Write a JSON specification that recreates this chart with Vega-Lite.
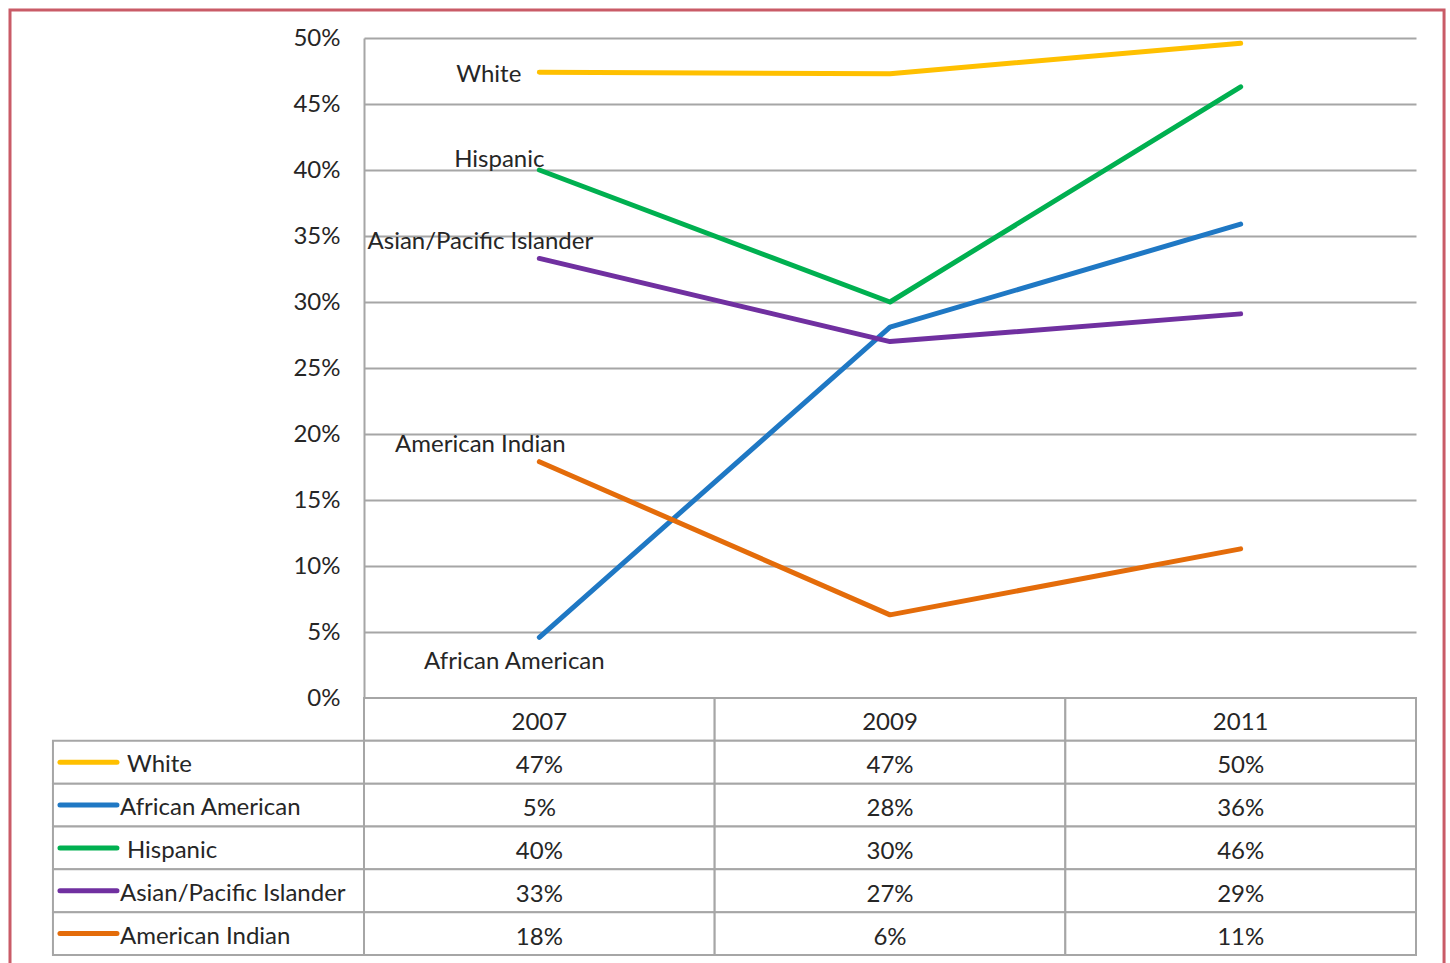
{
  "$schema": "https://vega.github.io/schema/vega-lite/v6.json",
  "width": 1052,
  "height": 660,
  "autosize": "none",
  "padding": {"left": 364, "top": 38, "right": 34, "bottom": 265},
  "background": "white",
  "config": {"view": {"stroke": null}, "font": "Lato", "text": {"font": "Lato", "fontSize": 24, "color": "#262626"}},
  "datasets": {
    "series": [
      {"year": 2007, "group": "White", "value": 0.474},
      {"year": 2009, "group": "White", "value": 0.473},
      {"year": 2011, "group": "White", "value": 0.496},
      {"year": 2007, "group": "African American", "value": 0.046},
      {"year": 2009, "group": "African American", "value": 0.281},
      {"year": 2011, "group": "African American", "value": 0.359},
      {"year": 2007, "group": "Hispanic", "value": 0.400},
      {"year": 2009, "group": "Hispanic", "value": 0.300},
      {"year": 2011, "group": "Hispanic", "value": 0.463},
      {"year": 2007, "group": "Asian/Pacific Islander", "value": 0.333},
      {"year": 2009, "group": "Asian/Pacific Islander", "value": 0.270},
      {"year": 2011, "group": "Asian/Pacific Islander", "value": 0.291},
      {"year": 2007, "group": "American Indian", "value": 0.179},
      {"year": 2009, "group": "American Indian", "value": 0.063},
      {"year": 2011, "group": "American Indian", "value": 0.113}
    ],
    "rows": [
      {"group": "header"},
      {"group": "White"},
      {"group": "African American"},
      {"group": "Hispanic"},
      {"group": "Asian/Pacific Islander"},
      {"group": "American Indian"}
    ]
  },
  "resolve": {"scale": {"y": "independent"}},
  "layer": [
    {
      "data": {"name": "series"},
      "layer": [
        {
          "data": {"values": [{}]},
          "mark": {"type": "rect", "fill": null, "stroke": "#c95b67", "strokeWidth": 3, "clip": false},
          "encoding": {
            "x": {"datum": 2003.981, "type": "quantitative", "scale": {"domain": [2006, 2012]}, "axis": null},
            "x2": {"datum": 2012.16},
            "y": {"datum": 0.5212, "type": "quantitative"},
            "y2": {"datum": -0.215}
          }
        },
        {
          "mark": {"type": "line", "strokeWidth": 5, "strokeCap": "round", "strokeJoin": "round"},
          "encoding": {
            "x": {"field": "year", "type": "quantitative", "scale": {"domain": [2006, 2012]}, "axis": null},
            "y": {
              "field": "value", "type": "quantitative",
              "scale": {"domain": [0, 0.5], "nice": false, "zero": false},
              "axis": {
                "title": null, "format": ".0%",
                "values": [0, 0.05, 0.1, 0.15, 0.2, 0.25, 0.3, 0.35, 0.4, 0.45, 0.5],
                "grid": true, "gridColor": "#a6a6a6", "gridWidth": 2,
                "domain": true, "domainColor": "#a6a6a6", "domainWidth": 2,
                "ticks": false, "labelPadding": 24,
                "labelFont": "Lato", "labelFontSize": 24, "labelColor": "#262626"
              }
            },
            "color": {
              "field": "group", "type": "nominal", "legend": null,
              "scale": {
                "domain": ["White", "African American", "Hispanic", "Asian/Pacific Islander", "American Indian"],
                "range": ["#ffc000", "#1f78c4", "#00b050", "#7030a0", "#e46c0a"]
              }
            },
            "detail": {"field": "group"}
          }
        },
        {
          "transform": [{"filter": "datum.year == 2007 && datum.group == 'White'"}],
          "mark": {"type": "text", "align": "right", "baseline": "middle", "dx": -18, "dy": 3},
          "encoding": {"x": {"field": "year", "type": "quantitative"}, "y": {"field": "value", "type": "quantitative"}, "text": {"field": "group"}}
        },
        {
          "transform": [{"filter": "datum.year == 2007 && datum.group == 'Hispanic'"}],
          "mark": {"type": "text", "align": "center", "baseline": "middle", "dx": -40, "dy": -10},
          "encoding": {"x": {"field": "year", "type": "quantitative"}, "y": {"field": "value", "type": "quantitative"}, "text": {"field": "group"}}
        },
        {
          "transform": [{"filter": "datum.year == 2007 && datum.group == 'Asian/Pacific Islander'"}],
          "mark": {"type": "text", "align": "center", "baseline": "middle", "dx": -59, "dy": -16},
          "encoding": {"x": {"field": "year", "type": "quantitative"}, "y": {"field": "value", "type": "quantitative"}, "text": {"field": "group"}}
        },
        {
          "transform": [{"filter": "datum.year == 2007 && datum.group == 'American Indian'"}],
          "mark": {"type": "text", "align": "center", "baseline": "middle", "dx": -59, "dy": -17},
          "encoding": {"x": {"field": "year", "type": "quantitative"}, "y": {"field": "value", "type": "quantitative"}, "text": {"field": "group"}}
        },
        {
          "transform": [{"filter": "datum.year == 2007 && datum.group == 'African American'"}],
          "mark": {"type": "text", "align": "center", "baseline": "middle", "dx": -25, "dy": 25},
          "encoding": {"x": {"field": "year", "type": "quantitative"}, "y": {"field": "value", "type": "quantitative"}, "text": {"field": "group"}}
        }
      ]
    },
    {
      "layer": [
        {
          "data": {"name": "rows"},
          "mark": {"type": "rect", "fill": "white", "stroke": "#a6a6a6", "strokeWidth": 2, "clip": false},
          "encoding": {
            "x": {"datum": 2006, "type": "quantitative"},
            "x2": {"datum": 2008},
            "y": {
              "field": "group", "type": "nominal", "axis": null,
              "scale": {
                "domain": ["header", "White", "African American", "Hispanic", "Asian/Pacific Islander", "American Indian"],
                "range": [660, 917], "paddingInner": 0, "paddingOuter": 0
              }
            }
          }
        },
        {
          "data": {"name": "rows"},
          "mark": {"type": "rect", "fill": "white", "stroke": "#a6a6a6", "strokeWidth": 2, "clip": false},
          "encoding": {
            "x": {"datum": 2008, "type": "quantitative"},
            "x2": {"datum": 2010},
            "y": {"field": "group", "type": "nominal", "axis": null}
          }
        },
        {
          "data": {"name": "rows"},
          "mark": {"type": "rect", "fill": "white", "stroke": "#a6a6a6", "strokeWidth": 2, "clip": false},
          "encoding": {
            "x": {"datum": 2010, "type": "quantitative"},
            "x2": {"datum": 2012},
            "y": {"field": "group", "type": "nominal", "axis": null}
          }
        },
        {
          "data": {"name": "rows"},
          "transform": [{"filter": "datum.group != 'header'"}],
          "mark": {"type": "rect", "fill": "white", "stroke": "#a6a6a6", "strokeWidth": 2, "clip": false},
          "encoding": {
            "x": {"datum": 2004.226, "type": "quantitative"},
            "x2": {"datum": 2006},
            "y": {"field": "group", "type": "nominal", "axis": null}
          }
        },
        {
          "data": {"name": "rows"},
          "transform": [{"filter": "datum.group != 'header'"}],
          "mark": {"type": "rule", "strokeWidth": 5, "strokeCap": "round", "clip": false},
          "encoding": {
            "x": {"datum": 2004.266, "type": "quantitative"},
            "x2": {"datum": 2004.591},
            "y": {"field": "group", "type": "nominal", "axis": null},
            "color": {"field": "group", "type": "nominal", "legend": null}
          }
        },
        {
          "data": {"name": "rows"},
          "transform": [{"filter": "datum.group != 'header' && datum.group != 'White' && datum.group != 'Hispanic'"}],
          "mark": {"type": "text", "align": "left", "baseline": "middle", "dx": 0, "dy": 3, "clip": false},
          "encoding": {
            "x": {"datum": 2004.608, "type": "quantitative"},
            "y": {"field": "group", "type": "nominal", "axis": null},
            "text": {"field": "group"}
          }
        },
        {
          "data": {"name": "rows"},
          "transform": [{"filter": "datum.group == 'White' || datum.group == 'Hispanic'"}],
          "mark": {"type": "text", "align": "left", "baseline": "middle", "dx": 7, "dy": 3, "clip": false},
          "encoding": {
            "x": {"datum": 2004.608, "type": "quantitative"},
            "y": {"field": "group", "type": "nominal", "axis": null},
            "text": {"field": "group"}
          }
        },
        {
          "data": {"name": "series"},
          "transform": [{"filter": "datum.group == 'White'"}],
          "mark": {"type": "text", "align": "center", "baseline": "middle", "dy": 4, "clip": false},
          "encoding": {
            "x": {"field": "year", "type": "quantitative"},
            "y": {"datum": "header", "type": "nominal", "axis": null},
            "text": {"field": "year", "type": "quantitative", "format": "d"}
          }
        },
        {
          "data": {"name": "series"},
          "mark": {"type": "text", "align": "center", "baseline": "middle", "dy": 4, "clip": false},
          "encoding": {
            "x": {"field": "year", "type": "quantitative"},
            "y": {"field": "group", "type": "nominal", "axis": null},
            "text": {"field": "value", "type": "quantitative", "format": ".0%"}
          }
        }
      ]
    }
  ]
}
